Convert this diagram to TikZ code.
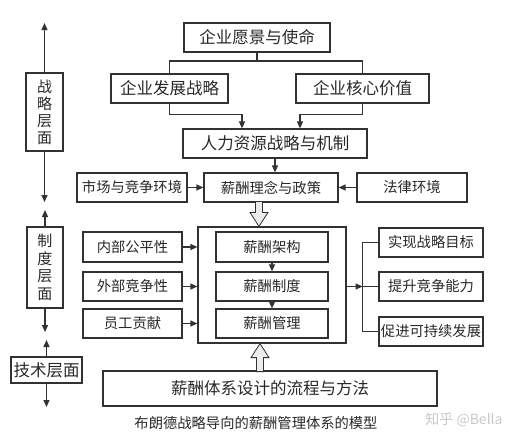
\documentclass[tikz,border=0pt]{standalone}
\usepackage{fontspec}
\setmainfont{Noto Sans CJK SC}
\usetikzlibrary{arrows.meta,calc}
\definecolor{LineGray}{RGB}{50,50,50}
\definecolor{TextGray}{RGB}{40,40,40}
\definecolor{ArrowFill}{RGB}{236,236,236}
\definecolor{MarkGray}{RGB}{200,200,200}

\begin{document}
\begin{tikzpicture}[x=1pt, y=-1pt, line width=1.2pt, draw=LineGray, text=TextGray,
  every node/.style={align=center, inner sep=0pt},
  box/.style={draw, minimum height=29pt},
  small/.style={font=\fontsize{14.3}{17}\selectfont},
  big/.style={font=\fontsize{16.5}{19}\selectfont},
  arr/.style={-{Triangle[length=7pt,width=6pt]}},
  hollow/.style={draw, fill=ArrowFill, line width=0.8pt}]
  \useasboundingbox (0,0) rectangle (520,442);

  % strategic level
  \node[box, big, minimum width=146pt] (vision) at (257,37.5) {企业愿景与使命};
  \node[box, big, minimum width=117pt] (develop) at (169.5,88.5) {企业发展战略};
  \node[box, big, minimum width=133pt] (core) at (362.5,88.5) {企业核心价值};
  \node[box, big, minimum width=184pt] (hr) at (275,143.5) {人力资源战略与机制};
  \node[box, small, minimum width=110pt] (market) at (132,187.5) {市场与竞争环境};
  \node[box, small, minimum width=134pt] (policy) at (271,187.5) {薪酬理念与政策};
  \node[box, small, minimum width=110pt] (law) at (412,187.5) {法律环境};

  \coordinate (split) at (257,61);
  \draw (vision.south) -- (split);
  \draw (develop.north) |- (split) -| (core.north);
  \draw[arr] (develop.south) -- ++(0,11) -| ([xshift=-33pt]hr.north);
  \draw[arr] (core.south) -- ++(0,11) -| ([xshift=25pt]hr.north);
  \draw[arr] (hr.south) -- (hr.south |- policy.north);
  \draw[arr] (market) -- (policy);
  \draw[arr] (law) -- (policy);

  % institutional level
  \node[draw, minimum width=148pt, minimum height=116pt] (container) at (272,285) {};
  \node[box, small, minimum width=99pt, minimum height=30pt] (fair) at (132.5,247) {内部公平性};
  \node[box, small, minimum width=99pt] (extern) at (132.5,286.5) {外部竞争性};
  \node[box, small, minimum width=99pt] (contrib) at (132.5,323.5) {员工贡献};
  \node[box, small, minimum width=112pt, minimum height=30pt] (struct) at (272,247) {薪酬架构};
  \node[box, small, minimum width=112pt] (system) at (272,286.5) {薪酬制度};
  \node[box, small, minimum width=112pt] (manage) at (272,323.5) {薪酬管理};
  \node[box, small, minimum width=104pt] (goal) at (431,242.5) {实现战略目标};
  \node[box, small, minimum width=104pt] (compete) at (431,286.5) {提升竞争能力};
  \node[box, small, minimum width=104pt] (sustain) at (431,331.5) {促进可持续发展};

  \foreach \n in {fair,extern,contrib}
    \draw[arr] (\n.east) -- (container.west |- \n.east);
  \draw[arr] (struct.south) -- (system.north);
  \draw[arr] (system.south) -- (manage.north);
  \coordinate (fork) at ($(container.east)+(16,1.5)$);
  \draw[arr] (container.east |- fork) -- (fork);
  \draw (goal.west) -| (fork) |- (sustain.west);
  \draw (fork) -- (compete.west);

  % technical level
  \node[draw, big, minimum width=334pt, minimum height=35pt] (method) at (270,388.5) {薪酬体系设计的流程与方法};
  \coordinate (dtip) at ($(container.north)+(-13,0)$);
  \draw[hollow] (dtip) -- ++(-9,-14) -- ++(5.5,0) -- ++(0,-11) -- ++(7,0) -- ++(0,11) -- ++(5.5,0) -- cycle;
  \coordinate (utip) at ($(container.south)+(-12,0)$);
  \draw[hollow] (utip) -- ++(-9,14) -- ++(5.5,0) -- ++(0,14) -- ++(7,0) -- ++(0,-14) -- ++(5.5,0) -- cycle;

  % level labels
  \node[draw, font=\fontsize{15}{17}\selectfont, minimum width=37pt, minimum height=78pt] (strat) at (44.5,112) {战\\略\\层\\面};
  \node[draw, font=\fontsize{15}{17.5}\selectfont, minimum width=36pt, minimum height=81pt] (inst) at (45,267.5) {制\\度\\层\\面};
  \node[draw, big, minimum width=71pt, minimum height=26pt] (tech) at (46.5,370) {技术层面};
  \coordinate (stratup) at (44.5,23);
  \coordinate (stratdown) at (44.5,202);
  \coordinate (instup) at (45,210);
  \coordinate (instdown) at (45,332);
  \coordinate (techup) at (46.5,340);
  \coordinate (techdown) at (46.5,407);
  \draw[arr] (strat.north) -- (stratup);
  \draw[arr] (strat.south) -- (stratdown);
  \draw[arr] (inst.north) -- (instup);
  \draw[arr] (inst.south) -- (instdown);
  \draw[arr] (tech.north) -- (techup);
  \draw[arr] (tech.south) -- (techdown);

  \node[small] (caption) at (256,423) {布朗德战略导向的薪酬管理体系的模型};
  \node[font=\fontsize{14}{16}\selectfont, text=MarkGray] (mark) at (464,420) {知乎 @Bella};
\end{tikzpicture}
\end{document}
